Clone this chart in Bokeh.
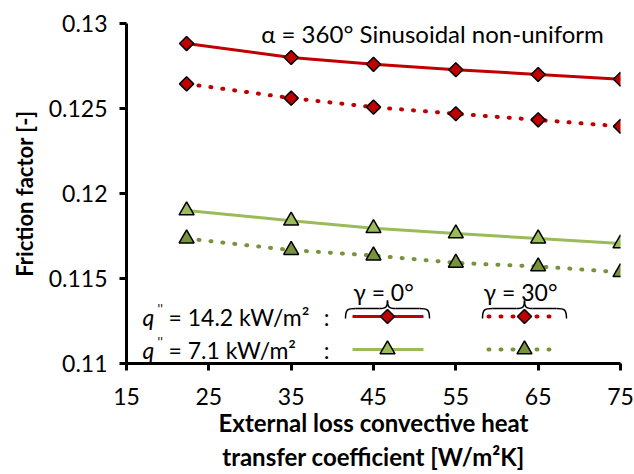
import numpy as np
from bokeh.plotting import figure
from bokeh.models import Label, FixedTicker, CustomJSTickFormatter, Range1d
from bokeh.embed import file_html
from bokeh.resources import INLINE

# ---------------- data ----------------
h_ext = [22.3, 35, 45, 55, 65, 75]
f_q14_g0 = [0.12882, 0.12800, 0.12760, 0.12728, 0.12700, 0.12672]
f_q14_g30 = [0.12645, 0.12561, 0.12508, 0.12469, 0.12433, 0.12395]
f_q7_g0 = [0.11900, 0.11840, 0.11796, 0.11765, 0.11735, 0.11706]
f_q7_g30 = [0.11735, 0.11667, 0.11635, 0.11592, 0.11571, 0.11537]
x_ticks = [15, 25, 35, 45, 55, 65, 75]
y_ticks = [0.11, 0.115, 0.12, 0.125, 0.13]
x_title = "External loss convective heat\ntransfer coefficient [W/m\u00b2K]"
y_title = "Friction factor [-]"

FONT = "Lato"
RED = "#C00000"
GREEN = "#9BBB59"
DGREEN = "#77933C"

W, H = 634, 474
X0, X1, Y0, Y1 = 15, 75, 0.11, 0.13
# frame geometry (page pixels)
FL, FR, FT, FB = 126, 620, 23, 363


def px(xp):
    return X0 + (xp - FL) / (FR - FL) * (X1 - X0)


def py(yp):
    return Y1 - (yp - FT) / (FB - FT) * (Y1 - Y0)


p = figure(width=W, height=H, output_backend="svg", toolbar_location=None,
           x_range=Range1d(X0, X1), y_range=Range1d(Y0, Y1),
           min_border_left=FL, min_border_top=FT,
           min_border_right=W - FR, min_border_bottom=H - FB)
p.outline_line_color = None
p.xgrid.visible = False
p.ygrid.visible = False
p.background_fill_color = "white"
p.border_fill_color = "white"

for ax in (p.xaxis[0], p.yaxis[0]):
    ax.axis_line_width = 3
    ax.axis_line_color = "black"
    ax.major_tick_line_width = 3
    ax.major_tick_line_color = "black"
    ax.major_tick_out = 7
    ax.major_tick_in = 0
    ax.minor_tick_line_color = None
    ax.major_label_text_font = FONT
    ax.major_label_text_font_size = "23px"
    ax.major_label_text_color = "black"
    ax.axis_label_text_font = FONT
    ax.axis_label_text_font_style = "bold"
    ax.axis_label_text_color = "black"

p.xaxis[0].ticker = FixedTicker(ticks=x_ticks)
p.yaxis[0].ticker = FixedTicker(ticks=y_ticks)
p.yaxis[0].formatter = CustomJSTickFormatter(code="return parseFloat(tick.toFixed(4)).toString();")
p.xaxis[0].major_label_standoff = 17
p.yaxis[0].major_label_standoff = 12
p.xaxis[0].axis_label = x_title
p.xaxis[0].axis_label_text_font_size = "24px"
p.xaxis[0].axis_label_text_line_height = 1.2
p.xaxis[0].axis_label_standoff = 0
p.yaxis[0].axis_label = y_title
p.yaxis[0].axis_label_text_font_size = "22px"
p.yaxis[0].axis_label_standoff = 8

# ---------------- series ----------------
DOT = "1 11"
p.line(h_ext, f_q14_g0, line_color=RED, line_width=3)
p.line(h_ext, f_q14_g30, line_color=RED, line_width=4, line_dash=DOT, line_cap="round")
p.line(h_ext, f_q7_g0, line_color=GREEN, line_width=3)
p.line(h_ext, f_q7_g30, line_color=DGREEN, line_width=4, line_dash=DOT, line_cap="round")

DSZ = 10
TSZ = 15
p.scatter(h_ext, f_q14_g0, marker="square", angle=np.pi / 4, size=DSZ, fill_color=RED,
          line_color="black", line_width=1.5)
p.scatter(h_ext, f_q14_g30, marker="square", angle=np.pi / 4, size=DSZ, fill_color=RED,
          line_color="black", line_width=1.5)
p.scatter(h_ext, f_q7_g0, marker="triangle", size=TSZ, fill_color=GREEN,
          line_color="black", line_width=1.5)
p.scatter(h_ext, f_q7_g30, marker="triangle", size=TSZ, fill_color=DGREEN,
          line_color="black", line_width=1.5)

# ---------------- annotation ----------------
p.add_layout(Label(x=px(432), y=py(33), text="\u03b1 = 360\u00b0 Sinusoidal non-uniform",
                   text_font=FONT, text_font_size="24px", text_align="center",
                   text_baseline="middle", text_color="black"))

# ---------------- custom legend ----------------
ROW1, ROW2 = 316, 349
for yrow, rest in ((ROW1, "= 14.2 kW/m\u00b2"), (ROW2, "= 7.1 kW/m\u00b2")):
    p.add_layout(Label(x=px(142), y=py(yrow), text="q", text_font=FONT, text_font_style="italic",
                       text_font_size="23px", text_baseline="middle", text_color="black"))
    p.add_layout(Label(x=px(157), y=py(yrow - 8), text="''", text_font=FONT,
                       text_font_size="13px", text_baseline="middle", text_color="black"))
    p.add_layout(Label(x=px(168), y=py(yrow), text=rest, text_font=FONT,
                       text_font_size="23px", text_baseline="middle", text_color="black"))
    p.add_layout(Label(x=px(326), y=py(yrow), text=":", text_font=FONT,
                       text_font_size="23px", text_baseline="middle", text_align="center",
                       text_color="black"))

COLS = [(387, "\u03b3 = 0\u00b0", 352, 423), (524, "\u03b3 = 30\u00b0", 488, 552)]
for i, (cx, lab, lx0, lx1) in enumerate(COLS):
    p.add_layout(Label(x=px(cx - 4), y=py(291), text=lab, text_font=FONT,
                       text_font_size="23px", text_align="center", text_baseline="middle",
                       text_color="black"))
    # brace (opening downwards)
    half = 42
    l, r = cx - half, cx + half
    p.bezier(x0=[px(l), px(r)], y0=[py(318), py(318)],
             x1=[px(l + 10), px(r - 10)], y1=[py(308), py(308)],
             cx0=[px(l), px(r)], cy0=[py(309), py(309)],
             cx1=[px(l + 2), px(r - 2)], cy1=[py(308), py(308)],
             line_color="black", line_width=1.5)
    p.bezier(x0=[px(cx), px(cx)], y0=[py(300), py(300)],
             x1=[px(cx - 8), px(cx + 8)], y1=[py(308), py(308)],
             cx0=[px(cx), px(cx)], cy0=[py(306), py(306)],
             cx1=[px(cx - 1), px(cx + 1)], cy1=[py(308), py(308)],
             line_color="black", line_width=1.5)
    p.segment(x0=[px(l + 10), px(cx + 8)], y0=[py(308), py(308)],
              x1=[px(cx - 8), px(r - 10)], y1=[py(308), py(308)],
              line_color="black", line_width=1.5)
    # sample lines
    if i == 0:
        p.line([px(lx0), px(lx1)], [py(ROW1), py(ROW1)], line_color=RED, line_width=3)
        p.line([px(lx0), px(lx1)], [py(ROW2), py(ROW2)], line_color=GREEN, line_width=3)
        rf, gf = RED, GREEN
    else:
        p.line([px(lx0), px(lx1)], [py(ROW1), py(ROW1)], line_color=RED, line_width=4,
               line_dash=DOT, line_cap="round")
        p.line([px(lx0), px(lx1)], [py(ROW2), py(ROW2)], line_color=DGREEN, line_width=4,
               line_dash=DOT, line_cap="round")
        rf, gf = RED, DGREEN
    p.scatter([px(cx)], [py(ROW1)], marker="square", angle=np.pi / 4, size=DSZ, fill_color=rf,
              line_color="black", line_width=1.5)
    p.scatter([px(cx)], [py(ROW2)], marker="triangle", size=TSZ, fill_color=gf,
              line_color="black", line_width=1.5)

open("out.html", "w").write(file_html(p, INLINE))
